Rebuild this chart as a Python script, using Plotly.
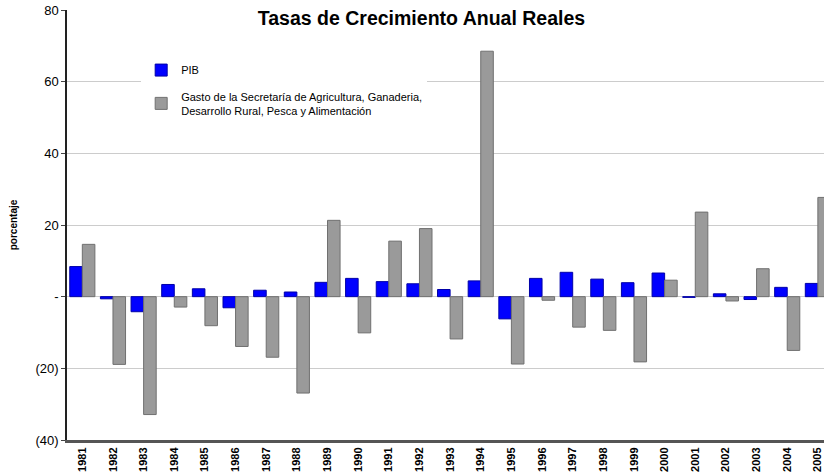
import plotly.graph_objects as go

# Tasas de crecimiento anual reales (%)
years = [str(y) for y in range(1981, 2006)]
pib = [8.4, -0.6, -4.2, 3.4, 2.2, -3.1, 1.8, 1.3, 4.0, 5.1, 4.2, 3.6, 2.0, 4.4, -6.2, 5.1,
       6.8, 4.9, 3.9, 6.6, -0.2, 0.8, -0.8, 2.6, 3.7]
gasto = [14.6, -18.9, -32.9, -2.9, -8.1, -13.9, -16.9, -26.9, 21.3, -10.1, 15.5, 19.0, -11.8,
         68.5, -18.8, -1.0, -8.5, -9.4, -18.2, 4.6, 23.6, -1.2, 7.8, -15.0, 27.7]

series_names = ["PIB",
                "Gasto de la Secretaría de Agricultura, Ganaderia,<br>Desarrollo Rural, Pesca y Alimentación"]
y_tickvals = [-40, -20, 0, 20, 40, 60, 80]
y_ticktext = ["(40)", "(20)", "-", "20", "40", "60", "80"]

FONT = "Arial, Liberation Sans, sans-serif"

fig = go.Figure()
fig.add_trace(go.Bar(
    x=years, y=pib, name=series_names[0], legendgroup="a",
    marker=dict(color="#0000ff", line=dict(color="#0000a8", width=1)),
))
fig.add_trace(go.Bar(
    x=years, y=gasto, name=series_names[1], legendgroup="b",
    marker=dict(color="#9a9a9a", line=dict(color="#707070", width=1)),
))

fig.update_layout(
    width=824, height=474,
    margin=dict(l=67, r=0, t=10, b=34),
    paper_bgcolor="white", plot_bgcolor="white",
    font=dict(family=FONT, color="black"),
    barmode="group", bargap=0.18, bargroupgap=0.0,
    title=dict(text="<b>Tasas de Crecimiento Anual Reales</b>",
               x=0.5115, xanchor="center", y=0.962, yanchor="middle",
               font=dict(size=19.5, family=FONT, color="black")),
    legend=dict(x=0.098, y=0.894, xanchor="left", yanchor="top",
                bgcolor="white", font=dict(size=11, family=FONT),
                traceorder="grouped", tracegroupgap=8,
                itemwidth=30),
    xaxis=dict(
        range=[-0.5, 24.2], type="category",
        showline=True, linecolor="#555555", linewidth=3,
        showgrid=False, ticks="", tickangle=-90,
        tickfont=dict(size=11, family=FONT, color="black", weight="bold"),
        ticklabeloverflow="allow",
        automargin=False,
    ),
    yaxis=dict(
        range=[-40, 80], tickvals=y_tickvals, ticktext=y_ticktext,
        showline=True, linecolor="#222222", linewidth=1.5,
        showgrid=True, gridcolor="#cccccc", gridwidth=1,
        zeroline=True, zerolinecolor="#cccccc", zerolinewidth=1,
        ticks="outside", ticklen=4, tickcolor="#444444",
        tickfont=dict(size=13, family=FONT, color="black"),
        ticklabeloverflow="allow",
        title=dict(text="<b>porcentaje</b>", font=dict(size=10, family=FONT), standoff=16),
        automargin=False,
    ),
)

# drop the browser's default 8px body margin so the chart sits at the page corner
fig.write_html("out.html", config={"displayModeBar": False},
               post_script="document.body.style.margin = '0';")
